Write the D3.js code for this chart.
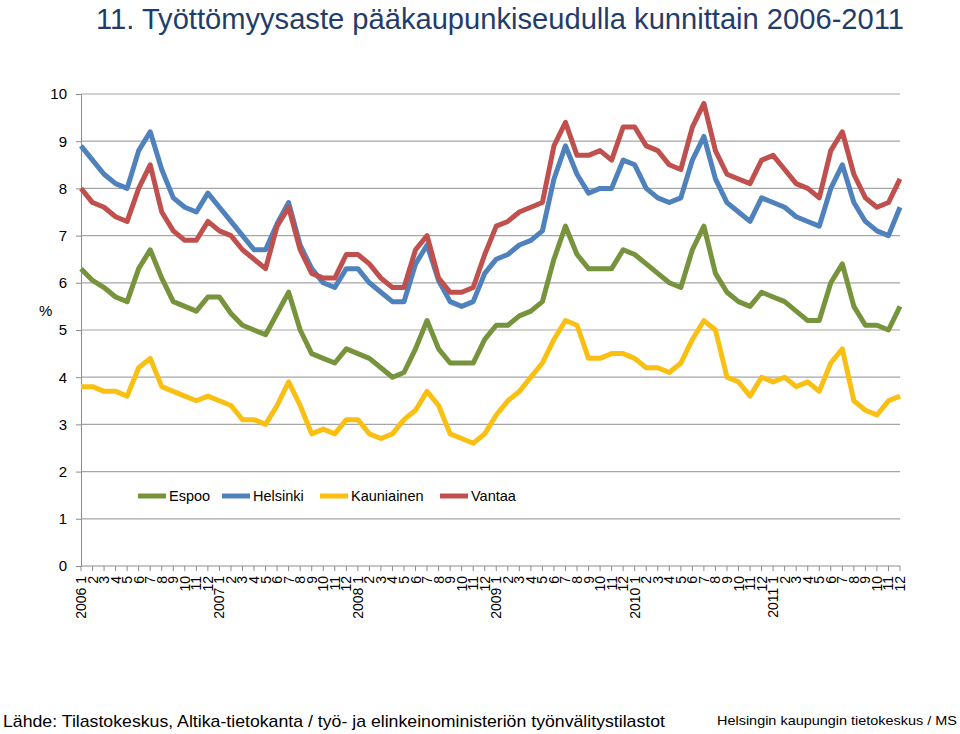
<!DOCTYPE html>
<html>
<head>
<meta charset="utf-8">
<script src="https://cdn.jsdelivr.net/npm/d3@7"></script>
<style>
  body { margin: 0; background: #fff; }
  text { font-family: "Liberation Sans", Arial, sans-serif; }
</style>
</head>
<body>
<script>
// Kuukaudet 2006-2011
var years = [2006, 2007, 2008, 2009, 2010, 2011],
    months = [1, 2, 3, 4, 5, 6, 7, 8, 9, 10, 11, 12];

var espoo = [6.3, 6.05, 5.9, 5.7, 5.6, 6.3, 6.7, 6.1, 5.6, 5.5, 5.4, 5.7,
             5.7, 5.35, 5.1, 5.0, 4.9, 5.35, 5.8, 5.0, 4.5, 4.4, 4.3, 4.6,
             4.5, 4.4, 4.2, 4.0, 4.1, 4.6, 5.2, 4.6, 4.3, 4.3, 4.3, 4.8,
             5.1, 5.1, 5.3, 5.4, 5.6, 6.5, 7.2, 6.6, 6.3, 6.3, 6.3, 6.7,
             6.6, 6.4, 6.2, 6.0, 5.9, 6.7, 7.2, 6.2, 5.8, 5.6, 5.5, 5.8,
             5.7, 5.6, 5.4, 5.2, 5.2, 6.0, 6.4, 5.5, 5.1, 5.1, 5.0, 5.5];

var helsinki = [8.9, 8.6, 8.3, 8.1, 8.0, 8.8, 9.2, 8.4, 7.8, 7.6, 7.5, 7.9,
                7.6, 7.3, 7.0, 6.7, 6.7, 7.25, 7.7, 6.8, 6.3, 6.0, 5.9, 6.3,
                6.3, 6.0, 5.8, 5.6, 5.6, 6.4, 6.8, 6.05, 5.6, 5.5, 5.6, 6.2,
                6.5, 6.6, 6.8, 6.9, 7.1, 8.2, 8.9, 8.3, 7.9, 8.0, 8.0, 8.6,
                8.5, 8.0, 7.8, 7.7, 7.8, 8.6, 9.1, 8.2, 7.7, 7.5, 7.3, 7.8,
                7.7, 7.6, 7.4, 7.3, 7.2, 8.0, 8.5, 7.7, 7.3, 7.1, 7.0, 7.6];

var kauniainen = [3.8, 3.8, 3.7, 3.7, 3.6, 4.2, 4.4, 3.8, 3.7, 3.6, 3.5, 3.6,
                  3.5, 3.4, 3.1, 3.1, 3.0, 3.4, 3.9, 3.4, 2.8, 2.9, 2.8, 3.1,
                  3.1, 2.8, 2.7, 2.8, 3.1, 3.3, 3.7, 3.4, 2.8, 2.7, 2.6, 2.8,
                  3.2, 3.5, 3.7, 4.0, 4.3, 4.8, 5.2, 5.1, 4.4, 4.4, 4.5, 4.5,
                  4.4, 4.2, 4.2, 4.1, 4.3, 4.8, 5.2, 5.0, 4.0, 3.9, 3.6, 4.0,
                  3.9, 4.0, 3.8, 3.9, 3.7, 4.3, 4.6, 3.5, 3.3, 3.2, 3.5, 3.6];

var vantaa = [8.0, 7.7, 7.6, 7.4, 7.3, 8.0, 8.5, 7.5, 7.1, 6.9, 6.9, 7.3,
              7.1, 7.0, 6.7, 6.5, 6.3, 7.2, 7.6, 6.7, 6.2, 6.1, 6.1, 6.6,
              6.6, 6.4, 6.1, 5.9, 5.9, 6.7, 7.0, 6.1, 5.8, 5.8, 5.9, 6.6,
              7.2, 7.3, 7.5, 7.6, 7.7, 8.9, 9.4, 8.7, 8.7, 8.8, 8.6, 9.3,
              9.3, 8.9, 8.8, 8.5, 8.4, 9.3, 9.8, 8.8, 8.3, 8.2, 8.1, 8.6,
              8.7, 8.4, 8.1, 8.0, 7.8, 8.8, 9.2, 8.3, 7.8, 7.6, 7.7, 8.2];

var seriesNames = ["Espoo", "Helsinki", "Kauniainen", "Vantaa"],
    seriesColors = ["#77933c", "#4f81bd", "#f9c013", "#c0504d"],
    yTicks = [0, 1, 2, 3, 4, 5, 6, 7, 8, 9, 10];

var labels = [];
years.forEach(function (y) {
    months.forEach(function (m) {
        labels.push(m == 1 ? y + " " + m : "" + m);
    });
});

var series = [espoo, helsinki, kauniainen, vantaa].map(function (vals, i) {
    return { name: seriesNames[i], color: seriesColors[i], values: vals };
});

var width = 960, height = 734;
var margin = { top: 94, right: 60, bottom: 168, left: 81 };

var svg = d3.select("body").append("svg")
    .attr("width", width)
    .attr("height", height);

var x = d3.scalePoint()
    .domain(d3.range(labels.length))
    .range([margin.left, width - margin.right]);

var y = d3.scaleLinear()
    .domain([0, 10])
    .range([height - margin.bottom, margin.top]);

// Title
svg.append("text")
    .attr("x", 96)
    .attr("y", 29)
    .attr("font-size", 29)
    .attr("fill", "#1f3d6b")
    .attr("textLength", 808)
    .attr("lengthAdjust", "spacingAndGlyphs")
    .text("11. Työttömyysaste pääkaupunkiseudulla kunnittain 2006-2011");

// Gridlines
svg.append("g")
    .selectAll("line")
    .data(yTicks.slice(1))
    .enter().append("line")
    .attr("x1", margin.left)
    .attr("x2", width - margin.right)
    .attr("y1", function (d) { return y(d); })
    .attr("y2", function (d) { return y(d); })
    .attr("stroke", "#a6a6a6")
    .attr("stroke-width", 1.2);

// Y axis
var yAxis = svg.append("g")
    .attr("transform", "translate(" + margin.left + ",0)")
    .call(d3.axisLeft(y).tickValues(yTicks).tickSize(5).tickPadding(9));
yAxis.selectAll("text").attr("font-size", 15).attr("fill", "#000")
    .style("font-family", "'Liberation Sans', Arial, sans-serif");
yAxis.selectAll("line, path").attr("stroke", "#8c8c8c");

svg.append("text")
    .attr("x", 39)
    .attr("y", 316)
    .attr("font-size", 15)
    .text("%");

// X axis (ticks between months)
var xAxis = svg.append("g")
    .attr("transform", "translate(0," + y(0) + ")");
xAxis.append("line")
    .attr("x1", margin.left).attr("x2", width - margin.right)
    .attr("stroke", "#8c8c8c");
xAxis.selectAll("line.tick")
    .data(d3.range(labels.length))
    .enter().append("line")
    .attr("class", "tick")
    .attr("x1", function (d) { return x(d); })
    .attr("x2", function (d) { return x(d); })
    .attr("y1", 0).attr("y2", 5)
    .attr("stroke", "#8c8c8c");
xAxis.selectAll("text")
    .data(labels)
    .enter().append("text")
    .attr("transform", function (d, i) {
        return "translate(" + (x(i) + 5) + ",10) rotate(-90)";
    })
    .attr("text-anchor", "end")
    .attr("font-size", 14)
    .text(function (d) { return d; });

// Lines
var line = d3.line()
    .x(function (d, i) { return x(i); })
    .y(function (d) { return y(d); });

svg.append("g")
    .selectAll("path")
    .data(series)
    .enter().append("path")
    .attr("d", function (d) { return line(d.values); })
    .attr("fill", "none")
    .attr("stroke", function (d) { return d.color; })
    .attr("stroke-width", 5)
    .attr("stroke-linejoin", "round");

// Legend
var legendX = [138, 222, 320, 440];
var legend = svg.append("g")
    .selectAll("g")
    .data(series)
    .enter().append("g")
    .attr("transform", function (d, i) { return "translate(" + legendX[i] + ",496)"; });
legend.append("line")
    .attr("x1", 0).attr("x2", 28)
    .attr("stroke", function (d) { return d.color; })
    .attr("stroke-width", 5);
legend.append("text")
    .attr("x", 31)
    .attr("y", 5)
    .attr("font-size", 14.5)
    .text(function (d) { return d.name; });

// Footer
svg.append("text")
    .attr("x", 3)
    .attr("y", 727)
    .attr("font-size", 17)
    .attr("textLength", 662)
    .attr("lengthAdjust", "spacingAndGlyphs")
    .text("Lähde: Tilastokeskus, Altika-tietokanta  /  työ- ja elinkeinoministeriön työnvälitystilastot");

svg.append("text")
    .attr("x", 957)
    .attr("y", 725)
    .attr("text-anchor", "end")
    .attr("font-size", 13.5)
    .attr("textLength", 240)
    .attr("lengthAdjust", "spacingAndGlyphs")
    .text("Helsingin kaupungin tietokeskus / MS");
</script>
</body>
</html>
